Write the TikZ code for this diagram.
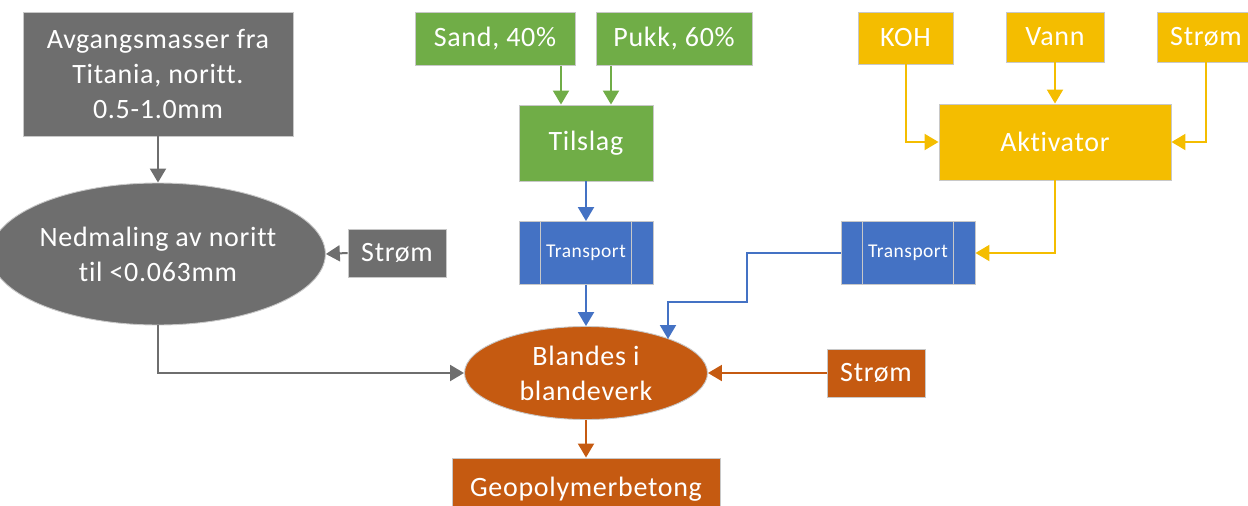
\documentclass[tikz,border=0pt]{standalone}
\usepackage{fontspec}
\setmainfont{Carlito}[LetterSpace=2.5,Ligatures=NoCommon]
\usetikzlibrary{arrows.meta,shapes.geometric,calc}
\definecolor{cgray}{HTML}{6E6E6E}
\definecolor{cgreen}{HTML}{70AD47}
\definecolor{cblue}{HTML}{4472C4}
\definecolor{cgold}{HTML}{F4BD00}
\definecolor{corange}{HTML}{C55A11}
\definecolor{cborder}{HTML}{C8C8C8}
\newcommand{\mainsz}{\fontsize{28}{35}\selectfont}
\newcommand{\smallsz}{\fontsize{19.5}{22}\selectfont}
\tikzset{
  box/.style={draw=cborder, line width=0.9pt, text=white, font=\mainsz, inner sep=0pt, align=center},
  oval/.style={box, ellipse},
  arr/.style={line width=2pt, -{Triangle[width=16pt,length=14pt]}},
  tbox/.style={box, fill=cblue, font=\smallsz, minimum width=134pt, minimum height=63pt}
}
\begin{document}
\begin{tikzpicture}[x=1pt,y=-1pt]
\clip (0,0) rectangle (1248,506);
\useasboundingbox (0,0) rectangle (1248,506);
% gray branch
\node[box, fill=cgray, minimum width=270pt, minimum height=124pt] (av) at (158,74) {Avgangsmasser fra\\Titania, noritt.\\0.5-1.0mm};
\node[oval, fill=cgray, minimum width=302pt, minimum height=142pt] (ned) at (158,254) {Nedmaling av noritt\\til <0.063mm};
\node[box, fill=cgray, minimum width=98pt, minimum height=48pt] (s1) at (397,253) {Strøm};
% green branch
\node[box, fill=cgreen, minimum width=160pt, minimum height=53pt] (sand) at (495,39) {Sand, 40\%};
\node[box, fill=cgreen, minimum width=156pt, minimum height=53pt] (pukk) at (674,39) {Pukk, 60\%};
\node[box, fill=cgreen, minimum width=134pt, minimum height=76pt] (til) at (586,143) {Tilslag};
% transports
\node[tbox] (t1) at (586,253) {Transport};
\node[tbox] (t2) at (908,253) {Transport};
\foreach \t in {t1,t2}{
  \draw[cborder, line width=0.9pt] ([xshift=22pt]\t.north west) -- ([xshift=22pt]\t.south west);
  \draw[cborder, line width=0.9pt] ([xshift=-22pt]\t.north east) -- ([xshift=-22pt]\t.south east);
}
% gold branch
\node[box, fill=cgold, minimum width=95pt, minimum height=52pt] (koh) at (905.5,38) {KOH};
\node[box, fill=cgold, minimum width=98pt, minimum height=50pt] (vann) at (1055,37) {Vann};
\node[box, fill=cgold, minimum width=98pt, minimum height=50pt] (s3) at (1206,37) {Strøm};
\node[box, fill=cgold, minimum width=232pt, minimum height=76pt] (akt) at (1055,142) {Aktivator};
% orange
\node[oval, fill=corange, minimum width=243pt, minimum height=93pt] (bl) at (586,373) {Blandes i\\blandeverk};
\node[box, fill=corange, minimum width=98pt, minimum height=48pt] (s4) at (876,373) {Strøm};
\node[box, fill=corange, minimum width=268pt, minimum height=62pt] (geo) at (586,489) {Geopolymerbetong};
% coordinates
\coordinate (sx) at (561,0);
\coordinate (px) at (611,0);
\coordinate (b1) at (747,302);
\coordinate (b2) at (668,302);
% gray arrows
\draw[arr, cgray] (av.south) -- (ned.north);
\draw[arr, cgray] (s1.west) -- (ned.east);
\draw[arr, cgray] (ned.south) |- (bl.west);
% green arrows
\draw[arr, cgreen] (sand.south -| sx) -- (til.north -| sx);
\draw[arr, cgreen] (pukk.south -| px) -- (til.north -| px);
% blue arrows
\draw[arr, cblue] (til.south) -- (t1.north);
\draw[arr, cblue] (t1.south) -- (bl.north);
\draw[arr, cblue] (t2.west) -| (b1) -- (b2) -- (b2 |- bl.22.7);
% gold arrows
\draw[arr, cgold] (koh.south) |- (akt.west);
\draw[arr, cgold] (vann.south) -- (akt.north);
\draw[arr, cgold] (s3.south) |- (akt.east);
\draw[arr, cgold] (akt.south) |- (t2.east);
% orange arrows
\draw[arr, corange] (s4.west) -- (bl.east);
\draw[arr, corange] (bl.south) -- (geo.north);
\end{tikzpicture}
\end{document}
